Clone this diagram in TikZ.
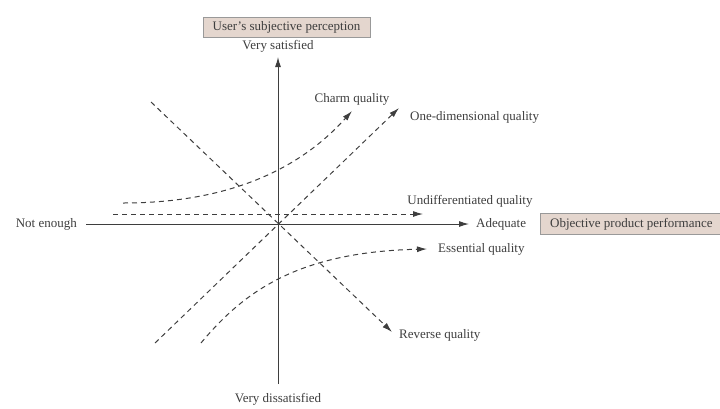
\documentclass[tikz,border=0pt]{standalone}
\usepackage{fontspec}
\setmainfont{Liberation Serif}
\usepackage{xcolor}
\usetikzlibrary{positioning,arrows.meta}
\definecolor{boxfill}{RGB}{228,214,206}
\definecolor{ink}{RGB}{62,62,62}

\begin{document}
\begin{tikzpicture}[
  x=1pt, y=-1pt,
  font=\fontsize{13}{15}\selectfont,
  text=ink,
  lbl/.style={inner sep=1pt},
  tag/.style={draw=black!40, fill=boxfill, minimum height=21pt, inner sep=2pt},
  axis/.style={draw=ink, line width=1pt, -{Latex[length=10pt,width=6pt]}},
  kano/.style={draw=ink, line width=1pt, dash pattern=on 5pt off 4pt, -{Latex[length=10pt,width=6pt]}}]
  \useasboundingbox (0,0) rectangle (720,408);
  % axes
  \coordinate (xl) at (86,224);
  \coordinate (xr) at (469,224);
  \coordinate (yb) at (278,384);
  \coordinate (yt) at (278,57);
  \draw[axis] (xl) -- (xr);
  \draw[axis] (yb) -- (yt);
  \node[lbl, left=8pt of xl] (noten) {Not enough};
  \node[lbl, right=6pt of xr] (adeq) {Adequate};
  \node[tag, right=13pt of adeq, minimum width=182pt] (objp) {Objective product performance};
  \node[lbl, above=3pt of yt] (vsat) {Very satisfied};
  \node[lbl, below=8pt of yb] (vdis) {Very dissatisfied};
  \node[tag, above=2pt of vsat, xshift=8.5pt, minimum width=167pt, minimum height=20pt] (usrp) {User's subjective perception};
  % quality curves
  \coordinate (charmS) at (123,203);
  \coordinate (charmE) at (352,111);
  \coordinate (oneS) at (155,343);
  \coordinate (oneE) at (399,108);
  \coordinate (undS) at (113,214);
  \coordinate (undE) at (423,214);
  \coordinate (essS) at (201,343);
  \coordinate (essE) at (427,249);
  \coordinate (revS) at (151,102);
  \coordinate (revE) at (392,332);
  \draw[kano] (charmS) .. controls (210,203) and (290,180) .. (charmE);
  \draw[kano] (oneS) -- (oneE);
  \draw[kano] (undS) -- (undE);
  \draw[kano] (essS) .. controls (245,290) and (300,252) .. (essE);
  \draw[kano] (revS) -- (revE);
  \node[lbl, above=4pt of charmE] (charm) {Charm quality};
  \node[lbl, right=10pt of oneE, yshift=-9pt] (onedim) {One-dimensional quality};
  \node[lbl, above=6pt of undE, xshift=47pt] (undiff) {Undifferentiated quality};
  \node[lbl, right=10pt of essE] (essq) {Essential quality};
  \node[lbl, right=6pt of revE, yshift=-3pt] (revq) {Reverse quality};
\end{tikzpicture}
\end{document}
